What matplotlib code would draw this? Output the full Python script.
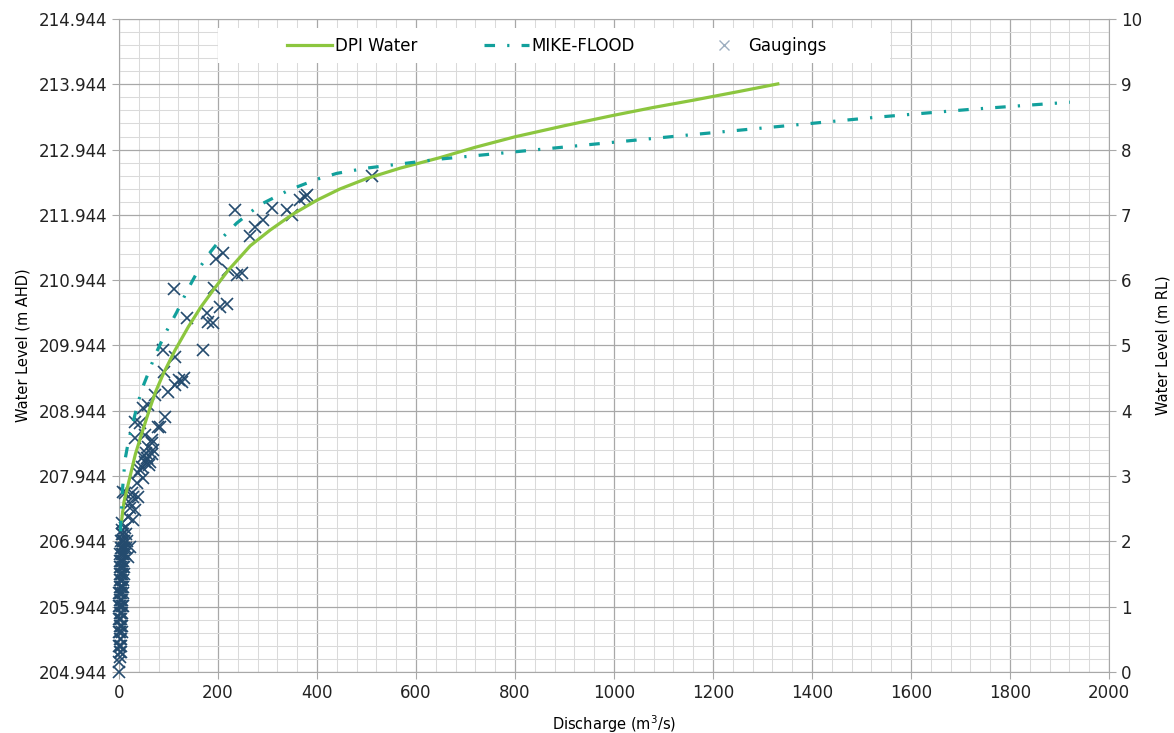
"""Rating curve comparison: DPI Water vs MIKE-FLOOD vs gaugings."""
import matplotlib
matplotlib.use("Agg")
import matplotlib.pyplot as plt
from matplotlib.lines import Line2D
from matplotlib.patches import Rectangle
from matplotlib.ticker import MultipleLocator, FixedLocator

DATUM = 204.944

# DPI Water rating curve (discharge m3/s, level m AHD)
dpi_q = [5, 10, 22, 33, 46, 60, 73, 90, 113, 140, 165, 190, 220, 265, 305,
         350, 400, 446, 500, 568, 648, 720, 800, 900, 1000, 1080, 1160, 1250,
         1331]
dpi_wl = [207.25, 207.55, 207.93, 208.28, 208.60, 208.93, 209.22, 209.52,
          209.87, 210.23, 210.53, 210.79, 211.09, 211.47, 211.71, 211.95,
          212.17, 212.34, 212.50, 212.66, 212.82, 212.98, 213.14, 213.31,
          213.47, 213.59, 213.70, 213.83, 213.95]

# MIKE-FLOOD rating curve
mike_q = [3, 6, 12, 19, 26, 38, 48, 59, 73, 95, 117, 140, 164, 185, 204, 238,
          285, 345, 400, 440, 500, 553, 650, 800, 950, 1154, 1350, 1531, 1720,
          1921]
mike_wl = [207.10, 207.65, 208.19, 208.48, 208.70, 209.06, 209.31, 209.52,
           209.80, 210.15, 210.46, 210.82, 211.15, 211.38, 211.56, 211.82,
           212.10, 212.33, 212.49, 212.58, 212.66, 212.71, 212.80, 212.91,
           213.02, 213.17, 213.31, 213.44, 213.56, 213.67]

# gaugings
gauge_q = [
    234, 309, 291, 275, 265, 339, 349, 366, 376, 380, 511, 210, 196, 220,
    238, 248, 111, 192, 137, 178, 180, 190, 204, 218, 89, 113, 170,
    91, 127, 113, 99, 73, 59, 48, 93, 79, 32, 53, 32, 67, 59, 69, 48, 63,
    46, 38, 48, 36, 12, 26, 38, 22, 32, 18, 6, 28, 12,
    42, 83, 67, 53, 42, 8, 28, 22, 6, 122, 131, 57, 66, 61, 55,
    1, 3, 0, 2, 4, 1, 3, 0, 2, 5, 1, 3, 6, 0, 2, 4, 1, 3, 6, 0, 2, 5, 7,
    1, 3, 6, 0, 2, 4, 8, 1, 3, 6, 9, 2, 4, 7, 1, 3, 5, 10, 2, 4, 7, 11,
    1, 3, 6, 9, 2, 5, 8, 12, 3, 6, 10, 14, 4, 7, 11, 5, 9, 15,
    22, 18, 16, 1, 0, 0,
]
gauge_wl = [
    212.02, 212.05, 211.87, 211.76, 211.62, 212.02, 211.94, 212.17, 212.22,
    212.25, 212.54, 211.36, 211.27, 211.10, 211.02, 211.05, 210.81, 210.82,
    210.36, 210.44, 210.30, 210.29, 210.53, 210.58, 209.87, 209.77, 209.87,
    209.54, 209.38, 209.34, 209.23, 209.19, 209.03, 208.98, 208.85, 208.70,
    208.77, 208.57, 208.53, 208.50, 208.39, 208.34, 208.24, 208.16, 208.08,
    207.99, 207.91, 207.84, 207.68, 207.68, 207.62, 207.53, 207.42, 207.32,
    207.22, 207.27, 207.15,
    208.76, 208.70, 208.45, 208.16, 208.04, 207.70, 207.62, 207.45, 207.12,
    209.42, 209.45, 208.22, 208.28, 208.12, 208.30,
    205.25, 205.25, 205.35, 205.35, 205.35, 205.45, 205.45, 205.55, 205.55,
    205.55, 205.65, 205.65, 205.65, 205.75, 205.75, 205.75, 205.85, 205.85,
    205.85, 205.95, 205.95, 205.95, 205.95, 206.05, 206.05, 206.05, 206.15,
    206.15, 206.15, 206.15, 206.25, 206.25, 206.25, 206.25, 206.35, 206.35,
    206.35, 206.45, 206.45, 206.45, 206.45, 206.55, 206.55, 206.55, 206.55,
    206.65, 206.65, 206.65, 206.65, 206.75, 206.75, 206.75, 206.75, 206.85,
    206.85, 206.85, 206.85, 206.95, 206.95, 206.95, 207.05, 207.05, 207.05,
    206.86, 206.70, 206.95, 205.18, 205.10, 204.944,
]

GREEN = "#8CC63F"
TEAL = "#12A09C"
NAVY = "#244B6E"
DASHDOT = (0, (3.3, 3.8, 0.7, 3.8))

fig = plt.figure(figsize=(11.74, 7.33), dpi=100)
ax = fig.add_axes([0.1014, 0.0832, 0.8432, 0.8909])

ax.set_xlim(0, 2000)
ax.set_ylim(DATUM, DATUM + 10)
ax.xaxis.set_major_locator(MultipleLocator(200))
ax.xaxis.set_minor_locator(MultipleLocator(40))
ax.yaxis.set_major_locator(FixedLocator([DATUM + i for i in range(11)]))
ax.yaxis.set_minor_locator(FixedLocator([DATUM + i * 0.2 for i in range(51)]))
ax.yaxis.set_major_formatter(lambda v, p: f"{v:.3f}")

ax.grid(which="minor", color="#DADADA", lw=0.75, zorder=0)
ax.grid(which="major", color="#A8A8A8", lw=0.9, zorder=0)
ax.set_axisbelow(True)
for s in ax.spines.values():
    s.set_color("#A8A8A8")
ax.tick_params(which="major", length=5, color="#A8A8A8", labelsize=12,
               labelcolor="#222222")
ax.tick_params(which="minor", length=0)

ax.plot(gauge_q, gauge_wl, ls="none", marker="x", ms=8.5, mew=1.2,
        color=NAVY, zorder=3, clip_on=False)
ax.plot(dpi_q, dpi_wl, color=GREEN, lw=2.3, zorder=4)
ax.plot(mike_q, mike_wl, color=TEAL, lw=2.3, ls=DASHDOT, zorder=4)

ax2 = ax.twinx()
ax2.set_ylim(0, 10)
ax2.yaxis.set_major_locator(MultipleLocator(1))
for s in ax2.spines.values():
    s.set_visible(False)
ax2.tick_params(length=5, color="#A8A8A8", labelsize=12, labelcolor="#222222")
ax2.set_ylabel("Water Level (m RL)", fontsize=10.5, labelpad=10)

ax.set_ylabel("Water Level (m AHD)", fontsize=10.5, labelpad=6)
ax.set_xlabel("Discharge (m$^3$/s)", fontsize=10.5, labelpad=8)

# white legend band
ax.add_patch(Rectangle((0.1, 0.933), 0.679, 0.053, transform=ax.transAxes,
                       facecolor="white", edgecolor="none", zorder=9))

handles = [
    Line2D([], [], color=GREEN, lw=2.3),
    Line2D([], [], color=TEAL, lw=2.3, ls=DASHDOT),
    Line2D([], [], ls="none", marker="x", ms=7, mew=1.0, color="#9DAEC0"),
]
leg = ax.legend(handles, ["DPI Water", "MIKE-FLOOD", "Gaugings"], ncol=3,
                loc="center", bbox_to_anchor=(0.4424, 0.959),
                fontsize=12, frameon=False, handlelength=2.7,
                handletextpad=0.15, columnspacing=4.0, borderaxespad=0)
leg.set_zorder(10)

fig.savefig("out.png", dpi=100)
